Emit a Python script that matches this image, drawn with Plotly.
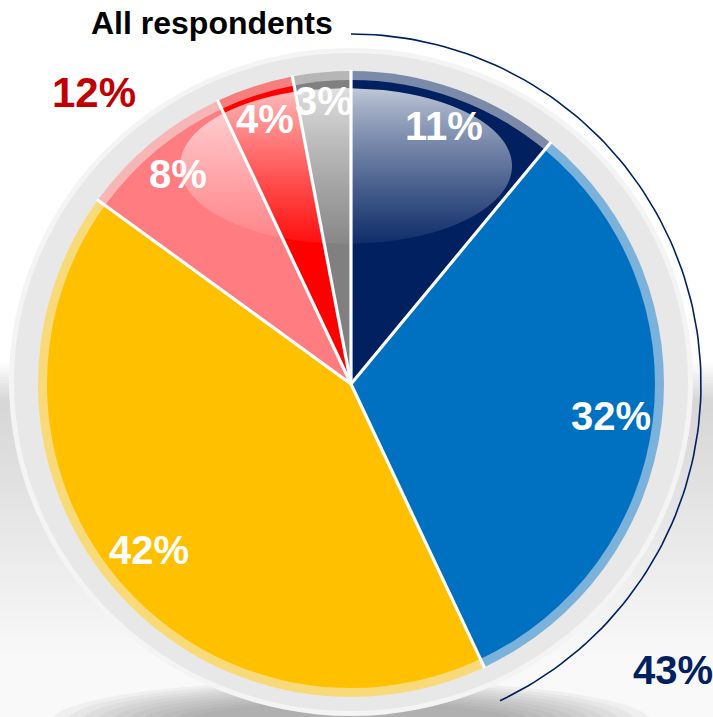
import math
import plotly.graph_objects as go

# ---------------- data ----------------
categories = ["Segment 1", "Segment 2", "Segment 3", "Segment 4", "Segment 5", "Segment 6"]
values = [11, 32, 42, 8, 4, 3]
main_colors = ["#002060", "#0070C0", "#FFC000", "#FF7C80", "#FF0000", "#808080"]
rim_colors = ["#7A8AA8", "#7AB2DC", "#F9DA7A", "#F6B6B6", "#F77E7E", "#B6B6B6"]
title_text = "All respondents"
blue_group = [0, 1]   # summed -> 43%
red_group = [3, 4]    # summed -> 12%

# ---------------- geometry / style ----------------
W, H = 713, 717
CX, CY = 351, 384
R_MAIN = 304
R_RIM = 313
R_ARC = 350
R_LABEL_EDGE = 304
LABEL_SIZE = 40
FONT = "Liberation Sans, Arial, sans-serif"

total = float(sum(values))
fracs = [v / total for v in values]
cum = [0.0]
for f in fracs:
    cum.append(cum[-1] + f)


def polar(frac, r):
    t = 2 * math.pi * frac
    return CX + r * math.sin(t), CY - r * math.cos(t)


def dom(r):
    return dict(x=[(CX - r) / W, (CX + r) / W], y=[1 - (CY + r) / H, 1 - (CY - r) / H])


def text_half_width(txt, size):
    em = sum(0.889 if ch == "%" else 0.556 for ch in txt)
    return 0.5 * em * size


shapes = []

# background floor gradient
def bg_gray(y):
    if y < 362:
        return 255
    if y < 400:
        return 255 - (255 - 214) * (y - 362) / 38
    if y < 660:
        return 214 + (249 - 214) * (y - 400) / 260
    return 249

for y in range(356, H, 3):
    g = int(round(bg_gray(y + 1.5)))
    if g >= 255:
        continue
    shapes.append(dict(type="rect", xref="x", yref="y", x0=0, x1=W, y0=y, y1=y + 3,
                       fillcolor=f"rgb({g},{g},{g})", line=dict(width=0), layer="below"))

# soft shadow under the disc
for k in range(10):
    rx = 300 - k * 15
    ry = 42 - k * 2.5
    shapes.append(dict(type="circle", xref="x", yref="y", x0=CX - rx, x1=CX + rx,
                       y0=722 - ry, y1=722 + ry, fillcolor="rgba(110,110,110,0.07)",
                       line=dict(width=0), layer="below"))

# outer light halo and grey ring
shapes.append(dict(type="circle", xref="x", yref="y", x0=CX - 342, x1=CX + 342,
                   y0=382 - 334, y1=382 + 334, fillcolor="#F4F4F4", line=dict(width=0), layer="below"))
shapes.append(dict(type="circle", xref="x", yref="y", x0=CX - 337, x1=CX + 337,
                   y0=382 - 329, y1=382 + 329, fillcolor="#E8E8E8", line=dict(width=0), layer="below"))

# glossy highlight (vertical gradient built from thin strips of an ellipse)
GX, GY, GRX, GRY = 346, 166, 166, 78
gy0, gy1 = GY - GRY, GY + GRY


def ghw(y):
    v = 1 - ((y - GY) / GRY) ** 2
    return GRX * math.sqrt(max(v, 0.0))

for y in range(gy0, gy1, 2):
    ya, yb = y, y + 2
    t = ((ya + yb) / 2 - gy0) / (gy1 - gy0)
    a = 0.76 - 0.70 * t ** 0.85
    wa, wb = ghw(ya), ghw(yb)
    path = (f"M {GX - wa:.2f},{ya} L {GX + wa:.2f},{ya} "
            f"L {GX + wb:.2f},{yb} L {GX - wb:.2f},{yb} Z")
    shapes.append(dict(type="path", xref="x", yref="y", path=path,
                       fillcolor=f"rgba(255,255,255,{a:.3f})", line=dict(width=0), layer="above"))

# white separators between slices
for c in cum[:-1]:
    x1, y1 = polar(c, R_RIM + 1)
    shapes.append(dict(type="line", xref="x", yref="y", x0=CX, y0=CY, x1=x1, y1=y1,
                       line=dict(color="white", width=3.2), layer="above"))

fig = go.Figure()

# arc bracket for the blue group
a0 = cum[blue_group[0]]
a1 = cum[blue_group[-1] + 1]
n = 120
arc_x, arc_y = [], []
for i in range(n + 1):
    px, py = polar(a0 + (a1 - a0) * i / n, R_ARC)
    arc_x.append(px)
    arc_y.append(py)
fig.add_trace(go.Scatter(x=arc_x, y=arc_y, mode="lines",
                         line=dict(color="#002060", width=1.6), hoverinfo="skip", showlegend=False))

# rim pie (lighter tint) and main pie
fig.add_trace(go.Pie(labels=categories, values=values, sort=False, direction="clockwise", rotation=0,
                     marker=dict(colors=rim_colors, line=dict(width=0)), textinfo="none",
                     domain=dom(R_RIM), showlegend=False, hoverinfo="skip"))
fig.add_trace(go.Pie(labels=categories, values=values, sort=False, direction="clockwise", rotation=0,
                     marker=dict(colors=main_colors, line=dict(width=0)), textinfo="none",
                     domain=dom(R_MAIN), showlegend=False, hoverinfo="label+value"))

# data labels placed "inside end" of each slice
annotations = []
HH = 18
for i, v in enumerate(values):
    txt = f"{v}%"
    mid = cum[i] + fracs[i] / 2
    th = 2 * math.pi * mid
    hw = text_half_width(txt, LABEL_SIZE)
    r = R_LABEL_EDGE - (hw * abs(math.sin(th)) + HH * abs(math.cos(th)))
    lx, ly = polar(mid, r)
    annotations.append(dict(x=lx, y=ly, xref="x", yref="y", text=f"<b>{txt}</b>", showarrow=False,
                            font=dict(family=FONT, size=LABEL_SIZE, color="white"),
                            xanchor="center", yanchor="middle", yshift=1))

blue_total = sum(values[i] for i in blue_group)
red_total = sum(values[i] for i in red_group)
annotations.append(dict(x=212, y=23, xref="x", yref="y", text=f"<b>{title_text}</b>", showarrow=False,
                        font=dict(family=FONT, size=32, color="black"), xanchor="center", yanchor="middle"))
annotations.append(dict(x=94, y=92, xref="x", yref="y", text=f"<b>{red_total}%</b>", showarrow=False,
                        font=dict(family=FONT, size=42, color="#C00000"), xanchor="center", yanchor="middle"))
annotations.append(dict(x=631, y=670, xref="x", yref="y", text=f"<b>{blue_total}%</b>", showarrow=False,
                        font=dict(family=FONT, size=40, color="#002060"), xanchor="left", yanchor="middle"))

fig.update_layout(
    width=W, height=H,
    margin=dict(l=0, r=0, t=0, b=0, pad=0),
    paper_bgcolor="white", plot_bgcolor="white",
    xaxis=dict(range=[0, W], visible=False, fixedrange=True, domain=[0, 1]),
    yaxis=dict(range=[H, 0], visible=False, fixedrange=True, domain=[0, 1]),
    shapes=shapes,
    annotations=annotations,
    showlegend=False,
)

fig.write_html("out.html", config={"displayModeBar": False},
               post_script="document.body.style.margin='0px';document.body.style.overflow='hidden';")
